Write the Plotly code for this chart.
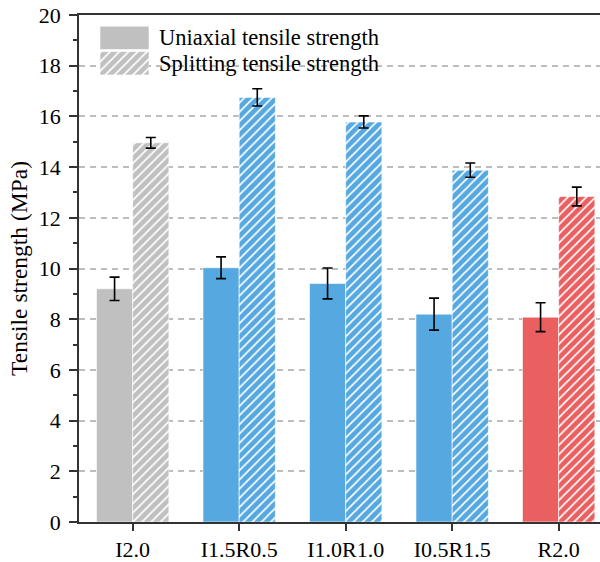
import plotly.graph_objects as go

# Mix designs and measured tensile strengths (MPa)
categories = ["I2.0", "I1.5R0.5", "I1.0R1.0", "I0.5R1.5", "R2.0"]
uniaxial = [9.20, 10.03, 9.41, 8.20, 8.08]
uniaxial_err = [0.46, 0.43, 0.61, 0.63, 0.57]
splitting = [14.96, 16.75, 15.78, 13.88, 12.84]
splitting_err = [0.21, 0.34, 0.24, 0.28, 0.37]
series_names = ["Uniaxial tensile strength", "Splitting tensile strength"]
y_ticks = [0, 2, 4, 6, 8, 10, 12, 14, 16, 18, 20]

GRAY = "#C0C0C0"
BLUE = "#55A8E0"
RED = "#EA5F5F"
bar_colors = [GRAY, BLUE, BLUE, BLUE, RED]
FONT = "Liberation Serif, Times New Roman, serif"
AXIS = "#333333"
EDGE = dict(color="rgba(255,255,255,0.6)", width=1)


def hatch():
    return dict(shape="/", fgcolor="white", fgopacity=1, fillmode="overlay", size=6.5, solidity=0.27)


fig = go.Figure()

# Uniaxial (solid) bars
fig.add_trace(go.Bar(
    x=categories, y=uniaxial, name=series_names[0], showlegend=False,
    offsetgroup="uni",
    marker=dict(color=bar_colors, line=EDGE),
    error_y=dict(type="data", array=uniaxial_err, color="black", thickness=1.6, width=5),
))

# Splitting (hatched) bars, one trace per fill colour sharing one offset group
for col in dict.fromkeys(bar_colors):
    idx = [i for i, c in enumerate(bar_colors) if c == col]
    fig.add_trace(go.Bar(
        x=[categories[i] for i in idx], y=[splitting[i] for i in idx],
        name=series_names[1], showlegend=False, offsetgroup="split",
        marker=dict(color=col, line=EDGE, pattern=hatch()),
        error_y=dict(type="data", array=[splitting_err[i] for i in idx],
                     color="black", thickness=1.6, width=5),
    ))

# Legend swatches drawn on a small auxiliary subplot
for k, shape in enumerate(["", "/"]):
    pat = hatch()
    pat["shape"] = shape
    fig.add_trace(go.Bar(
        x=[1], y=[k], orientation="h", width=0.92, base=0, offsetgroup="legend",
        xaxis="x3", yaxis="y3", showlegend=False, hoverinfo="skip",
        marker=dict(color=GRAY, line=EDGE, pattern=pat),
    ))

fig.update_layout(
    width=600, height=562,
    margin=dict(l=79, r=0, t=15, b=40),
    paper_bgcolor="white", plot_bgcolor="white",
    barmode="group", bargap=0.32, bargroupgap=0,
    font=dict(family=FONT, size=22, color="black"),
    showlegend=False,
    xaxis=dict(
        range=[-0.504, 4.388],
        showline=True, linecolor=AXIS, linewidth=1.6, mirror=True,
        ticks="outside", ticklen=7, tickwidth=1.6, tickcolor=AXIS,
        showgrid=False, zeroline=False,
        tickfont=dict(family=FONT, size=22, color="black"),
    ),
    yaxis=dict(
        range=[0, 20], tickvals=y_ticks,
        showline=True, linecolor=AXIS, linewidth=1.6,
        ticks="outside", ticklen=8, tickwidth=1.6, tickcolor=AXIS,
        ticklabelstandoff=4,
        minor=dict(dtick=1, ticks="outside", ticklen=4, tickwidth=1.6, tickcolor=AXIS, showgrid=False),
        showgrid=True, gridcolor="#BDBDBD", gridwidth=1.5, griddash="6px,5px",
        zeroline=False,
        title=dict(text="Tensile strength (MPa)", font=dict(family=FONT, size=23.5, color="black"), standoff=5),
        tickfont=dict(family=FONT, size=22, color="black"),
    ),
    yaxis2=dict(
        overlaying="y", side="right", range=[0, 20], tickvals=y_ticks,
        ticks="inside", ticklen=5, tickwidth=1.6, tickcolor=AXIS,
        minor=dict(dtick=1, ticks="inside", ticklen=3, tickwidth=1.6, tickcolor=AXIS, showgrid=False),
        showticklabels=False, showgrid=False, showline=False, zeroline=False,
    ),
    xaxis3=dict(domain=[0.0403, 0.1344], range=[0, 1], visible=False, fixedrange=True),
    yaxis3=dict(domain=[0.8797, 0.980], range=[1.5, -0.5], visible=False, fixedrange=True),
)

# Legend labels
legend_y = [0.9566, 0.9034]
for name, yy in zip(series_names, legend_y):
    fig.add_annotation(
        text=name, xref="paper", yref="paper", x=0.1497, y=yy,
        xanchor="left", yanchor="middle", showarrow=False,
        font=dict(family=FONT, size=22.5, color="black"),
    )

fig.write_html("out.html")
